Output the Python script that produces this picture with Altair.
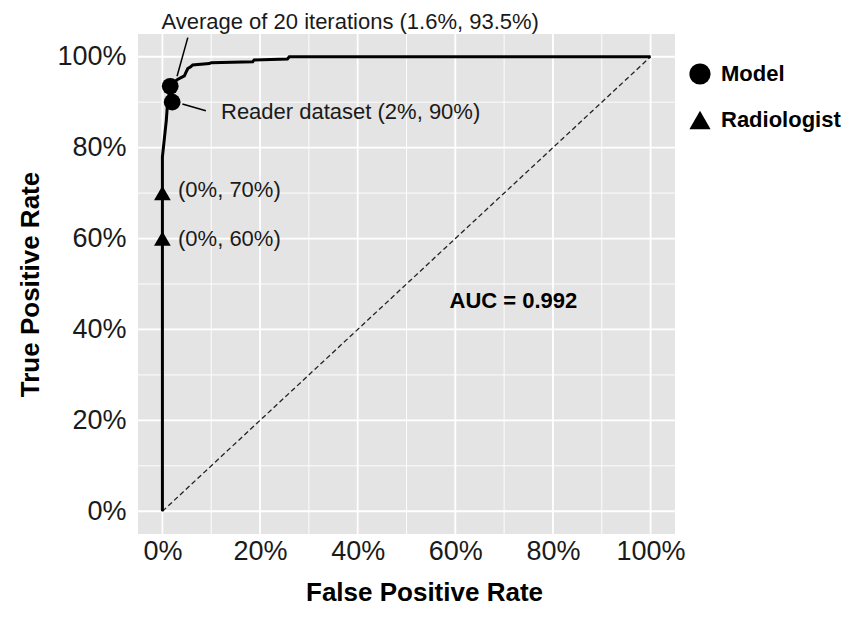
import altair as alt
import pandas as pd

# ROC curve (false positive rate, true positive rate)
roc_fpr = [0.0, 0.0, 0.004, 0.008, 0.010, 0.014, 0.017, 0.025, 0.031, 0.040, 0.045, 0.048,
           0.052, 0.058, 0.062, 0.096, 0.100, 0.185, 0.188, 0.256, 0.260, 1.0]
roc_tpr = [0.0, 0.78, 0.82, 0.86, 0.89, 0.92, 0.936, 0.945, 0.950, 0.955, 0.958, 0.965,
           0.974, 0.978, 0.982, 0.985, 0.987, 0.989, 0.993, 0.995, 1.0, 1.0]

diag_fpr = [0.0, 1.0]
diag_tpr = [0.0, 1.0]

groups = ["Model", "Model", "Radiologist", "Radiologist"]
pt_fpr = [0.016, 0.020, 0.0, 0.0]
pt_tpr = [0.935, 0.900, 0.70, 0.60]

major_ticks = [0.0, 0.2, 0.4, 0.6, 0.8, 1.0]
minor_ticks = [0.1, 0.3, 0.5, 0.7, 0.9]

# leader lines
lead_x = [0.052, 0.041]
lead_y = [1.042, 0.896]
lead_x2 = [0.030, 0.089]
lead_y2 = [0.957, 0.881]

# annotations
ann_text = ["Average of 20 iterations (1.6%, 93.5%)", "Reader dataset (2%, 90%)",
            "(0%, 70%)", "(0%, 60%)"]
ann_x = [-0.002, 0.120, 0.032, 0.032]
ann_y = [1.077, 0.878, 0.706, 0.600]

auc_text = ["AUC = 0.992"]
auc_x = [0.719]
auc_y = [0.462]

DOM = [-0.05, 1.05]
FONT = "Liberation Sans"


def xenc(field="x"):
    return alt.X(f"{field}:Q", scale=alt.Scale(domain=DOM, nice=False, zero=False),
                 axis=alt.Axis(values=major_ticks, format=".0%", title="False Positive Rate",
                               labelPadding=4, titlePadding=15, titleX=286))


def yenc(field="y"):
    return alt.Y(f"{field}:Q", scale=alt.Scale(domain=DOM, nice=False, zero=False),
                 axis=alt.Axis(values=major_ticks, format=".0%", title="True Positive Rate",
                               labelPadding=12, titlePadding=13))


roc_df = pd.DataFrame({"x": roc_fpr, "y": roc_tpr, "i": list(range(len(roc_fpr)))})
diag_df = pd.DataFrame({"x": diag_fpr, "y": diag_tpr, "i": [0, 1]})
pt_df = pd.DataFrame({"x": pt_fpr, "y": pt_tpr, "g": groups})
lead_df = pd.DataFrame({"x": lead_x, "y": lead_y, "x2": lead_x2, "y2": lead_y2})
ann_df = pd.DataFrame({"x": ann_x, "y": ann_y, "t": ann_text})
auc_df = pd.DataFrame({"x": auc_x, "y": auc_y, "t": auc_text})
minor_df = pd.DataFrame({"v": minor_ticks})
major_df = pd.DataFrame({"v": major_ticks})

grid_minor_x = alt.Chart(minor_df).mark_rule(color="white", strokeWidth=0.9).encode(x=xenc("v"))
grid_minor_y = alt.Chart(minor_df).mark_rule(color="white", strokeWidth=0.9).encode(y=yenc("v"))
grid_major_x = alt.Chart(major_df).mark_rule(color="white", strokeWidth=1.8).encode(x=xenc("v"))
grid_major_y = alt.Chart(major_df).mark_rule(color="white", strokeWidth=1.8).encode(y=yenc("v"))

diag = alt.Chart(diag_df).mark_line(color="#222222", strokeWidth=1.3, strokeDash=[5, 3]).encode(
    x=xenc(), y=yenc(), order="i:Q")

roc = alt.Chart(roc_df).mark_line(color="black", strokeWidth=3, interpolate="linear").encode(
    x=xenc(), y=yenc(), order="i:Q")

leads = alt.Chart(lead_df).mark_rule(color="black", strokeWidth=1.5).encode(
    x=xenc(), y=yenc(), x2="x2:Q", y2="y2:Q")

points = alt.Chart(pt_df).mark_point(filled=True, opacity=1, size=280).encode(
    x=xenc(), y=yenc(),
    color=alt.value("black"),
    shape=alt.Shape("g:N", scale=alt.Scale(domain=["Model", "Radiologist"],
                                           range=["circle", "triangle-up"]),
                    legend=alt.Legend(title=None, orient="none", legendX=551, legendY=29,
                                      labelFontSize=22, labelFontWeight="bold",
                                      labelColor="black", labelFont=FONT,
                                      symbolSize=450, symbolFillColor="black",
                                      symbolStrokeColor="black", symbolStrokeWidth=0,
                                      labelOffset=10, rowPadding=24, padding=0)))

ann = alt.Chart(ann_df).mark_text(align="left", baseline="middle", fontSize=22,
                                  color="#1a1a1a", font=FONT).encode(
    x=xenc(), y=yenc(), text="t:N")

auc = alt.Chart(auc_df).mark_text(align="center", baseline="middle", fontSize=22,
                                  fontWeight="bold", color="black", font=FONT).encode(
    x=xenc(), y=yenc(), text="t:N")

chart = alt.layer(grid_minor_x, grid_minor_y, grid_major_x, grid_major_y, diag, roc, leads,
                  points, ann, auc).properties(
    width=537, height=500,
    autosize=alt.AutoSizeParams(type="none"),
    padding={"left": 130, "top": 26, "right": 166, "bottom": 76},
    background="white",
).configure_view(fill="#e4e4e4", stroke=None).configure_axis(
    grid=False, ticks=False, domain=False, labelFont=FONT, titleFont=FONT,
    labelFontSize=27, labelColor="#1a1a1a", titleFontSize=26, titleFontWeight="bold",
    titleColor="black",
)

chart.save("out.html", embed_options={"renderer": "svg", "actions": False})
